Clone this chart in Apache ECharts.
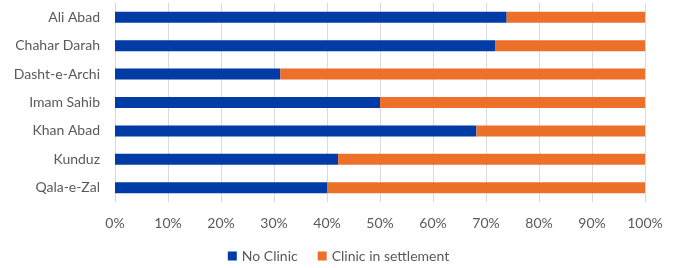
<!DOCTYPE html>
<html>
<head>
<meta charset="utf-8">
<script src="https://cdn.jsdelivr.net/npm/echarts@6/dist/echarts.min.js"></script>
<style>
  html, body { margin: 0; padding: 0; background: #fff; }
  #chart { width: 677px; height: 268px; }
</style>
</head>
<body>
<div id="chart"></div>
<script>
// categories, top to bottom as in the picture
var districts = ["Ali Abad", "Chahar Darah", "Dasht-e-Archi", "Imam Sahib", "Khan Abad", "Kunduz", "Qala-e-Zal"];
// share of settlements (%)
var noClinic = [73.9, 71.8, 31.2, 50, 68.2, 42.1, 40];
var clinicIn = [26.1, 28.2, 68.8, 50, 31.8, 57.9, 60];
var xTicks = [0, 10, 20, 30, 40, 50, 60, 70, 80, 90, 100];

var font = "Lato, 'Open Sans', sans-serif";
var myChart = echarts.init(document.getElementById("chart"));
var option = {
  animation: false,
  grid: { left: 115, right: 32, top: 3, bottom: 66, containLabel: false },
  legend: {
    data: ["No Clinic", "Clinic in settlement"],
    bottom: 0,
    left: "center",
    itemWidth: 9,
    itemHeight: 9,
    itemGap: 20,
    icon: "rect",
    textStyle: { color: "#595959", fontSize: 14, fontFamily: font }
  },
  xAxis: {
    type: "value",
    min: xTicks[0],
    max: xTicks[xTicks.length - 1],
    interval: 10,
    axisLabel: { formatter: "{value}%", color: "#595959", fontSize: 14, fontFamily: font, margin: 14 },
    axisLine: { show: false },
    axisTick: { show: false },
    splitLine: { lineStyle: { color: "#d9d9d9", width: 1 } }
  },
  yAxis: {
    type: "category",
    inverse: true,
    data: districts,
    axisLabel: { color: "#595959", fontSize: 14, fontFamily: font, margin: 15 },
    axisLine: { show: false },
    axisTick: { show: false }
  },
  series: [
    {
      name: "No Clinic",
      type: "bar",
      stack: "all",
      barWidth: 11,
      itemStyle: { color: "#003BA6" },
      data: noClinic
    },
    {
      name: "Clinic in settlement",
      type: "bar",
      stack: "all",
      barWidth: 11,
      itemStyle: { color: "#EC7029" },
      data: clinicIn
    }
  ]
};
myChart.setOption(option);
</script>
</body>
</html>
